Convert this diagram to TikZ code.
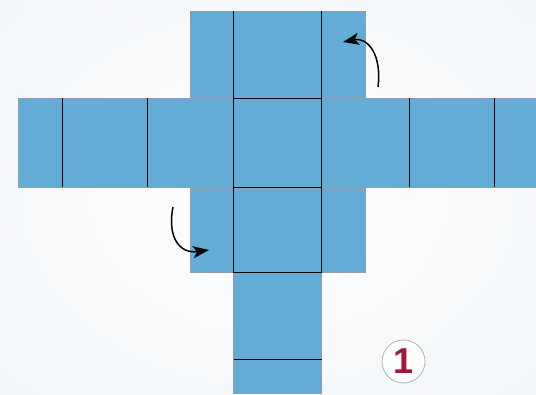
\documentclass[tikz,border=0pt]{standalone}
\usepackage{fontspec}
\setsansfont{Liberation Sans}
\usetikzlibrary{arrows.meta}
\definecolor{face}{HTML}{62ACD6}
\definecolor{edge}{HTML}{8E9EAA}
\definecolor{numred}{HTML}{A3173A}
\definecolor{bgblue}{HTML}{DCE6F0}
\tikzset{
  facefill/.style={fill=face, draw=edge, line width=0.6pt},
  fold/.style={draw=black, line width=0.8pt},
  turn/.style={-{Stealth[length=16pt,width=12pt,inset=4pt]}, line width=1.5pt, black},
}
\begin{document}
\begin{tikzpicture}[x=1pt,y=-1pt]
\useasboundingbox (0,0) rectangle (536,395);
\shade[inner color=white, outer color=bgblue] (-150,-120) rectangle (686,515);
\fill[white, opacity=0.6] (0,0) rectangle (536,395);
% top block
\path[facefill] (190,11) rectangle (365,97);
\draw[fold] (233.5,11) -- (233.5,98);
\draw[fold] (321.5,11) -- (321.5,98);
% middle row
\path[facefill] (18,98) rectangle (540,187);
\foreach \x in {62,147,233.5,321.5,409,494} \draw[fold] (\x,98) -- (\x,187);
\draw[fold] (233.5,98) -- (321.5,98);
% bottom block
\path[facefill] (190,188) rectangle (365,272);
% bottom strip
\path[facefill] (233.5,272) rectangle (321.5,393);
\draw[fold] (233.5,187) rectangle (321.5,272);
\draw[fold] (233.5,359) -- (321.5,359);
% arrows
\coordinate (a1s) at (378,87);
\coordinate (a1e) at (343,42);
\coordinate (a2s) at (173,207);
\coordinate (a2e) at (209,250);
\draw[turn] (a1s) .. controls (382,55) and (368,37) .. (a1e);
\draw[turn] (a2s) .. controls (167,238) and (180,254) .. (a2e);
% number
\node[circle, draw=gray!60, fill=white, line width=0.8pt, minimum size=43pt, inner sep=0pt,
      font=\sffamily\bfseries\fontsize{36}{36}\selectfont, text=numred] (num) at (403.5,361.5) {1};
\end{tikzpicture}
\end{document}
